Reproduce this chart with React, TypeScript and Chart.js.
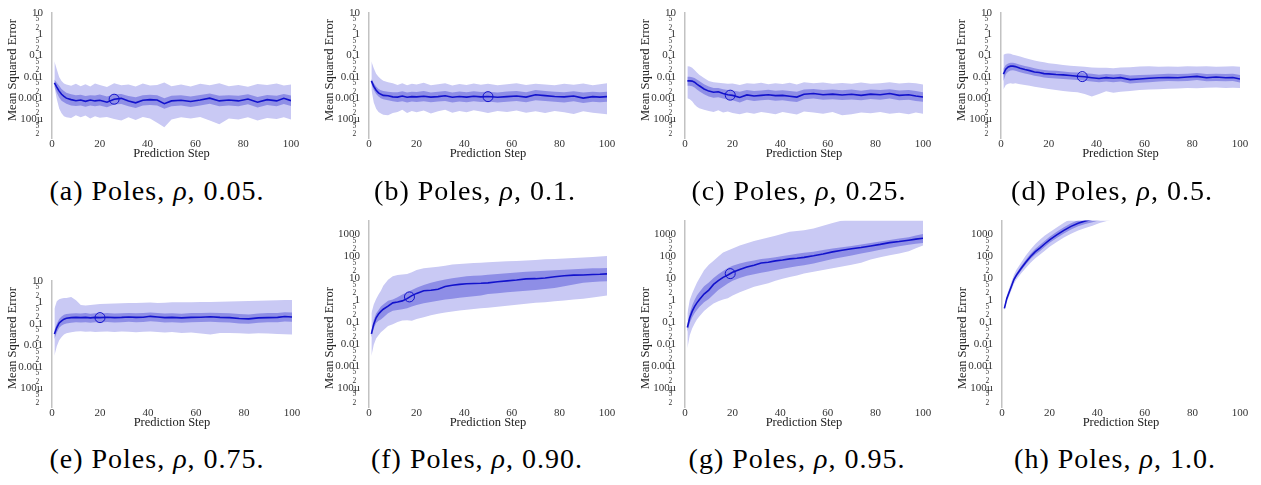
import React, { useEffect, useRef } from 'react';
import { Chart, registerables } from 'chart.js';
Chart.register(...registerables);

// Prediction steps at which the curves were read
const STEPS = [1, 2, 3, 4, 5, 6, 8, 10, 12, 14, 16, 18, 20, 23, 26, 29, 32, 35, 38, 41, 44, 47, 50, 54, 58, 62, 66, 70, 74, 78, 82, 86, 90, 94, 97, 100];

// All series are log10(Mean Squared Error)
// (a) rho 0.05
const A_MEAN = [-2.28, -2.48, -2.67, -2.82, -2.92, -3.00, -3.07, -3.12, -3.09, -3.15, -3.09, -3.13, -3.10, -3.19, -3.05, -3.01, -3.13, -3.22, -3.10, -3.07, -3.09, -3.26, -3.13, -3.10, -3.16, -3.09, -3.00, -3.13, -3.09, -3.13, -3.04, -3.19, -3.07, -3.13, -3.01, -3.12];
const A_INNER_HI = [-2.13, -2.28, -2.42, -2.57, -2.67, -2.75, -2.82, -2.87, -2.84, -2.90, -2.86, -2.88, -2.83, -2.92, -2.82, -2.80, -2.90, -2.96, -2.86, -2.84, -2.86, -3.00, -2.89, -2.86, -2.92, -2.85, -2.78, -2.89, -2.86, -2.89, -2.82, -2.95, -2.85, -2.89, -2.80, -2.88];
const A_INNER_LO = [-2.45, -2.75, -2.97, -3.12, -3.19, -3.26, -3.34, -3.37, -3.34, -3.40, -3.35, -3.38, -3.34, -3.43, -3.30, -3.27, -3.38, -3.46, -3.35, -3.32, -3.34, -3.50, -3.38, -3.35, -3.41, -3.34, -3.26, -3.38, -3.34, -3.38, -3.29, -3.44, -3.32, -3.38, -3.27, -3.37];
const A_OUTER_HI = [-1.27, -1.64, -2.01, -2.20, -2.31, -2.36, -2.42, -2.33, -2.44, -2.35, -2.45, -2.31, -2.38, -2.48, -2.30, -2.40, -2.36, -2.45, -2.31, -2.41, -2.38, -2.27, -2.44, -2.36, -2.45, -2.33, -2.40, -2.30, -2.44, -2.38, -2.47, -2.34, -2.38, -2.31, -2.41, -2.36];
const A_OUTER_LO = [-2.45, -3.04, -3.49, -3.71, -3.85, -3.90, -3.93, -3.80, -3.90, -3.82, -3.95, -3.85, -3.92, -3.88, -3.98, -4.05, -3.90, -4.02, -3.88, -3.95, -4.15, -4.37, -4.00, -3.90, -3.95, -3.88, -4.05, -4.22, -3.95, -4.00, -3.90, -4.05, -3.93, -3.98, -3.90, -4.00];

// (b) rho 0.1
const B_MEAN = [-2.19, -2.45, -2.63, -2.75, -2.82, -2.87, -2.89, -2.94, -2.95, -2.90, -2.96, -2.93, -2.94, -2.91, -2.95, -2.93, -2.89, -2.96, -2.92, -2.95, -2.91, -2.94, -2.92, -2.96, -2.93, -2.90, -2.95, -2.84, -2.88, -2.92, -2.94, -2.90, -3.00, -2.93, -2.95, -2.93];
const B_INNER_HI = [-2.10, -2.30, -2.45, -2.57, -2.63, -2.67, -2.70, -2.72, -2.72, -2.68, -2.74, -2.70, -2.71, -2.67, -2.73, -2.70, -2.66, -2.74, -2.69, -2.72, -2.68, -2.71, -2.70, -2.73, -2.69, -2.66, -2.72, -2.62, -2.66, -2.70, -2.72, -2.68, -2.74, -2.70, -2.72, -2.70];
const B_INNER_LO = [-2.35, -2.62, -2.80, -2.92, -3.00, -3.05, -3.10, -3.14, -3.18, -3.14, -3.20, -3.16, -3.18, -3.14, -3.19, -3.16, -3.13, -3.21, -3.16, -3.19, -3.14, -3.18, -3.16, -3.20, -3.17, -3.13, -3.19, -3.10, -3.13, -3.17, -3.20, -3.15, -3.23, -3.17, -3.19, -3.17];
const B_OUTER_HI = [-1.27, -1.60, -1.85, -2.00, -2.10, -2.18, -2.25, -2.30, -2.38, -2.30, -2.40, -2.33, -2.36, -2.28, -2.40, -2.35, -2.30, -2.41, -2.34, -2.38, -2.31, -2.37, -2.33, -2.40, -2.35, -2.30, -2.38, -2.32, -2.36, -2.40, -2.33, -2.37, -2.31, -2.39, -2.35, -2.30];
const B_OUTER_LO = [-2.60, -3.20, -3.50, -3.65, -3.72, -3.78, -3.80, -3.70, -3.65, -3.55, -3.70, -3.60, -3.66, -3.58, -3.72, -3.62, -3.55, -3.68, -3.60, -3.66, -3.57, -3.63, -3.70, -3.60, -3.65, -3.58, -3.68, -3.62, -3.70, -3.60, -3.66, -3.74, -3.62, -3.68, -3.72, -3.75];

// (c) rho 0.25
const C_MEAN = [-2.19, -2.19, -2.20, -2.25, -2.34, -2.42, -2.57, -2.67, -2.72, -2.70, -2.78, -2.84, -2.87, -2.97, -2.85, -2.90, -2.87, -2.84, -2.88, -2.87, -2.91, -2.95, -2.82, -2.78, -2.84, -2.81, -2.85, -2.82, -2.87, -2.81, -2.84, -2.78, -2.87, -2.84, -2.90, -2.95];
const C_INNER_HI = [-2.00, -2.00, -2.02, -2.06, -2.12, -2.20, -2.35, -2.45, -2.52, -2.53, -2.58, -2.62, -2.64, -2.70, -2.62, -2.66, -2.64, -2.61, -2.65, -2.63, -2.67, -2.70, -2.60, -2.57, -2.62, -2.60, -2.63, -2.60, -2.65, -2.59, -2.62, -2.58, -2.64, -2.62, -2.66, -2.72];
const C_INNER_LO = [-2.42, -2.42, -2.44, -2.50, -2.60, -2.68, -2.82, -2.92, -2.98, -2.96, -3.02, -3.07, -3.10, -3.20, -3.08, -3.13, -3.10, -3.07, -3.12, -3.10, -3.14, -3.18, -3.05, -3.02, -3.07, -3.05, -3.09, -3.06, -3.10, -3.04, -3.08, -3.02, -3.10, -3.08, -3.13, -3.17];
const C_OUTER_HI = [-1.50, -1.52, -1.58, -1.68, -1.80, -1.90, -2.05, -2.20, -2.25, -2.28, -2.30, -2.33, -2.31, -2.38, -2.30, -2.33, -2.28, -2.35, -2.30, -2.34, -2.28, -2.36, -2.26, -2.30, -2.27, -2.33, -2.29, -2.32, -2.27, -2.33, -2.30, -2.26, -2.31, -2.28, -2.30, -2.36];
const C_OUTER_LO = [-3.00, -3.05, -3.15, -3.30, -3.40, -3.47, -3.55, -3.60, -3.65, -3.57, -3.67, -3.63, -3.70, -3.75, -3.67, -3.73, -3.65, -3.70, -3.75, -3.65, -3.71, -3.77, -3.63, -3.67, -3.73, -3.65, -3.80, -3.75, -3.67, -3.71, -3.65, -3.73, -3.69, -3.75, -3.67, -3.73];

// (d) rho 0.5
const D_MEAN = [-1.87, -1.64, -1.54, -1.50, -1.50, -1.52, -1.60, -1.66, -1.71, -1.77, -1.80, -1.85, -1.86, -1.89, -1.91, -1.94, -1.97, -2.00, -2.04, -2.08, -2.04, -2.07, -2.04, -2.13, -2.10, -2.07, -2.04, -2.03, -2.04, -2.01, -1.98, -2.04, -2.01, -2.04, -2.03, -2.10];
const D_INNER_HI = [-1.62, -1.45, -1.38, -1.34, -1.34, -1.36, -1.43, -1.49, -1.54, -1.60, -1.64, -1.68, -1.70, -1.72, -1.75, -1.78, -1.80, -1.83, -1.86, -1.90, -1.87, -1.89, -1.87, -1.94, -1.92, -1.90, -1.88, -1.86, -1.87, -1.85, -1.82, -1.87, -1.85, -1.87, -1.86, -1.92];
const D_INNER_LO = [-2.20, -1.88, -1.76, -1.70, -1.69, -1.71, -1.78, -1.84, -1.89, -1.95, -1.98, -2.03, -2.05, -2.08, -2.10, -2.12, -2.15, -2.18, -2.22, -2.26, -2.22, -2.25, -2.22, -2.31, -2.28, -2.25, -2.22, -2.20, -2.21, -2.19, -2.15, -2.21, -2.19, -2.21, -2.20, -2.27];
const D_OUTER_HI = [-0.97, -0.92, -0.90, -0.92, -0.96, -0.99, -1.05, -1.12, -1.18, -1.24, -1.28, -1.32, -1.36, -1.40, -1.44, -1.48, -1.50, -1.53, -1.56, -1.58, -1.57, -1.60, -1.56, -1.55, -1.52, -1.50, -1.53, -1.51, -1.53, -1.50, -1.52, -1.50, -1.53, -1.51, -1.50, -1.53];
const D_OUTER_LO = [-2.60, -2.38, -2.32, -2.30, -2.33, -2.30, -2.35, -2.38, -2.42, -2.46, -2.50, -2.54, -2.57, -2.62, -2.66, -2.70, -2.72, -2.80, -2.92, -2.80, -2.68, -2.75, -2.70, -2.66, -2.62, -2.60, -2.58, -2.56, -2.55, -2.52, -2.54, -2.51, -2.50, -2.52, -2.51, -2.53];

// (e) rho 0.75
const E_MEAN = [-1.47, -1.17, -0.96, -0.86, -0.78, -0.74, -0.71, -0.70, -0.71, -0.70, -0.72, -0.70, -0.71, -0.69, -0.71, -0.70, -0.68, -0.70, -0.69, -0.65, -0.68, -0.71, -0.70, -0.72, -0.70, -0.69, -0.67, -0.70, -0.71, -0.75, -0.77, -0.72, -0.71, -0.70, -0.66, -0.68];
const E_INNER_HI = [-1.30, -1.00, -0.78, -0.66, -0.58, -0.54, -0.52, -0.51, -0.52, -0.50, -0.53, -0.51, -0.52, -0.49, -0.52, -0.51, -0.49, -0.51, -0.50, -0.47, -0.49, -0.52, -0.51, -0.53, -0.50, -0.49, -0.48, -0.50, -0.51, -0.54, -0.56, -0.52, -0.50, -0.49, -0.46, -0.47];
const E_INNER_LO = [-1.70, -1.40, -1.18, -1.08, -1.02, -0.98, -0.95, -0.93, -0.94, -0.92, -0.95, -0.93, -0.94, -0.91, -0.94, -0.92, -0.90, -0.93, -0.91, -0.88, -0.90, -0.94, -0.93, -0.95, -0.92, -0.91, -0.90, -0.93, -0.94, -0.98, -1.00, -0.95, -0.93, -0.92, -0.89, -0.90];
const E_OUTER_HI = [-0.30, 0.05, 0.15, 0.18, 0.20, 0.20, 0.25, 0.10, -0.12, -0.15, -0.12, -0.10, -0.08, -0.06, -0.05, -0.04, -0.03, -0.03, -0.02, -0.01, -0.03, -0.02, 0.00, 0.00, 0.01, 0.02, 0.02, 0.03, 0.04, 0.05, 0.06, 0.08, 0.09, 0.10, 0.11, 0.11];
const E_OUTER_LO = [-2.48, -2.04, -1.76, -1.61, -1.50, -1.44, -1.39, -1.36, -1.35, -1.37, -1.36, -1.38, -1.37, -1.36, -1.38, -1.36, -1.37, -1.39, -1.37, -1.36, -1.38, -1.40, -1.38, -1.42, -1.40, -1.45, -1.50, -1.43, -1.42, -1.44, -1.46, -1.44, -1.45, -1.47, -1.48, -1.50];

// (f) rho 0.90
const F_MEAN = [-1.54, -1.10, -0.81, -0.64, -0.52, -0.42, -0.28, -0.13, -0.09, -0.04, 0.06, 0.20, 0.30, 0.42, 0.44, 0.49, 0.61, 0.67, 0.71, 0.74, 0.75, 0.76, 0.78, 0.83, 0.87, 0.91, 0.96, 0.97, 1.00, 1.06, 1.10, 1.13, 1.14, 1.16, 1.17, 1.19];
const F_INNER_HI = [-1.40, -0.90, -0.62, -0.45, -0.30, -0.20, -0.04, 0.02, 0.13, 0.25, 0.35, 0.46, 0.56, 0.68, 0.78, 0.86, 0.93, 0.99, 1.04, 1.08, 1.10, 1.12, 1.15, 1.18, 1.22, 1.25, 1.28, 1.31, 1.33, 1.35, 1.38, 1.40, 1.42, 1.44, 1.45, 1.46];
const F_INNER_LO = [-1.70, -1.30, -1.05, -0.95, -0.89, -0.80, -0.60, -0.49, -0.46, -0.42, -0.38, -0.30, -0.23, -0.15, -0.09, -0.03, 0.02, 0.06, 0.10, 0.14, 0.17, 0.20, 0.27, 0.31, 0.35, 0.39, 0.42, 0.45, 0.50, 0.55, 0.62, 0.70, 0.78, 0.82, 0.84, 0.85];
const F_OUTER_HI = [-0.60, -0.20, 0.05, 0.25, 0.42, 0.65, 0.92, 1.08, 1.14, 1.16, 1.18, 1.26, 1.36, 1.44, 1.48, 1.51, 1.56, 1.61, 1.64, 1.66, 1.68, 1.70, 1.72, 1.74, 1.76, 1.78, 1.80, 1.82, 1.85, 1.87, 1.89, 1.91, 1.93, 1.96, 1.98, 2.00];
const F_OUTER_LO = [-2.55, -2.04, -1.75, -1.60, -1.47, -1.38, -1.18, -1.10, -1.00, -0.93, -0.92, -0.95, -0.86, -0.78, -0.70, -0.63, -0.57, -0.52, -0.48, -0.44, -0.41, -0.38, -0.35, -0.31, -0.26, -0.22, -0.17, -0.13, -0.10, -0.06, -0.02, 0.02, 0.06, 0.11, 0.16, 0.20];

// (g) rho 0.95
const G_MEAN = [-1.25, -0.81, -0.52, -0.30, -0.13, 0.01, 0.27, 0.45, 0.71, 0.88, 1.03, 1.14, 1.26, 1.39, 1.50, 1.58, 1.68, 1.72, 1.78, 1.82, 1.87, 1.90, 1.94, 2.01, 2.09, 2.19, 2.26, 2.33, 2.39, 2.46, 2.53, 2.61, 2.66, 2.72, 2.77, 2.81];
const G_INNER_HI = [-1.10, -0.60, -0.25, 0.00, 0.20, 0.35, 0.62, 0.80, 1.00, 1.17, 1.32, 1.46, 1.56, 1.66, 1.74, 1.80, 1.86, 1.90, 1.95, 2.00, 2.05, 2.10, 2.15, 2.20, 2.27, 2.34, 2.40, 2.46, 2.52, 2.59, 2.66, 2.73, 2.80, 2.86, 2.93, 3.00];
const G_INNER_LO = [-1.45, -1.05, -0.80, -0.60, -0.45, -0.32, -0.10, 0.05, 0.25, 0.45, 0.60, 0.75, 0.87, 1.00, 1.10, 1.17, 1.24, 1.30, 1.36, 1.42, 1.48, 1.53, 1.58, 1.66, 1.76, 1.86, 1.94, 2.02, 2.12, 2.20, 2.29, 2.37, 2.44, 2.51, 2.56, 2.59];
const G_OUTER_HI = [-0.60, 0.00, 0.30, 0.55, 0.78, 0.98, 1.35, 1.60, 1.79, 1.98, 2.16, 2.25, 2.34, 2.48, 2.58, 2.68, 2.76, 2.84, 2.92, 3.02, 3.10, 3.14, 3.17, 3.25, 3.38, 3.50, 3.62, 3.68, 3.72, 3.76, 3.80, 3.84, 3.87, 3.90, 3.92, 3.94];
const G_OUTER_LO = [-2.20, -1.61, -1.30, -1.08, -0.89, -0.75, -0.50, -0.32, -0.16, -0.06, 0.02, 0.08, 0.20, 0.35, 0.48, 0.60, 0.68, 0.76, 0.88, 0.97, 1.05, 1.12, 1.20, 1.28, 1.36, 1.44, 1.52, 1.60, 1.70, 1.84, 1.94, 2.04, 2.12, 2.22, 2.35, 2.48];

// (h) rho 1.0 (leaves the plot through the top, read up to step 50)
const H_MEAN = [-0.38, 0.06, 0.35, 0.64, 0.93, 1.12, 1.43, 1.72, 1.98, 2.20, 2.37, 2.56, 2.74, 2.96, 3.17, 3.35, 3.49, 3.60, 3.68, 3.78, 3.86, 3.94, 4.02];
const H_INNER_HI = [-0.33, 0.12, 0.42, 0.72, 1.01, 1.21, 1.53, 1.83, 2.10, 2.33, 2.51, 2.70, 2.88, 3.10, 3.31, 3.49, 3.63, 3.74, 3.84, 3.93, 4.02, 4.10, 4.18];
const H_INNER_LO = [-0.43, 0.00, 0.28, 0.56, 0.85, 1.03, 1.33, 1.61, 1.86, 2.07, 2.23, 2.42, 2.60, 2.82, 3.03, 3.21, 3.35, 3.46, 3.54, 3.63, 3.72, 3.80, 3.88];
const H_OUTER_HI = [-0.28, 0.20, 0.52, 0.84, 1.14, 1.36, 1.70, 2.02, 2.30, 2.55, 2.75, 2.93, 3.08, 3.30, 3.52, 3.70, 3.85, 3.97, 4.08, 4.18, 4.27, 4.35, 4.43];
const H_OUTER_LO = [-0.48, -0.10, 0.18, 0.46, 0.74, 0.92, 1.20, 1.46, 1.70, 1.90, 2.07, 2.24, 2.42, 2.64, 2.84, 3.02, 3.16, 3.28, 3.38, 3.50, 3.60, 3.68, 3.76];

// circled point on each mean curve: step, log10(MSE)
const MARKER_STEPS = [26, 50, 19, 34, 20, 17, 19, null];
const MARKER_LOGS = [-3.05, -2.93, -2.86, -1.99, -0.71, 0.14, 1.20, null];

const CAPTION_LETTERS = ['a', 'b', 'c', 'd', 'e', 'f', 'g', 'h'];
const CAPTION_RHO = ['0.05', '0.1', '0.25', '0.5', '0.75', '0.90', '0.95', '1.0'];

const Y_TICKS = [2e-5, 5e-5, 1e-4, 2e-4, 5e-4, 1e-3, 2e-3, 5e-3, 0.01, 0.02, 0.05, 0.1, 0.2, 0.5, 1, 2, 5, 10, 20, 50, 100, 200, 500, 1000];
const MAJOR_LABELS: Record<number, string> = { [-4]: '100µ', [-3]: '0.001', [-2]: '0.01', [-1]: '0.1', 0: '1', 1: '10', 2: '100', 3: '1000' };
const Y_MIN = 1.35e-5;
const Y_MAX_SMALL = 10.3;
const Y_MAX_LARGE = 4100;

const SERIF = "'Liberation Serif', 'Times New Roman', serif";
const OUTER_COLOR = '#c9c9f4';
const INNER_COLOR = '#8e8ee6';
const LINE_COLOR = '#1212cc';

const Y_AXIS_W = 52;
const X_AXIS_H = 23;
const PAD_T = 8;
const PAD_R = 14;
const PAD_B = 2;

type Panel = {
  mean: number[]; innerHi: number[]; innerLo: number[]; outerHi: number[]; outerLo: number[];
  left: number; right: number; top: number; bottom: number; yMax: number;
  capX: number; capY: number; titleY: number;
};

const PANELS: Panel[] = [
  { mean: A_MEAN, innerHi: A_INNER_HI, innerLo: A_INNER_LO, outerHi: A_OUTER_HI, outerLo: A_OUTER_LO, left: 52, right: 291, top: 5, bottom: 138, yMax: Y_MAX_SMALL, capX: 157, capY: 191, titleY: 70 },
  { mean: B_MEAN, innerHi: B_INNER_HI, innerLo: B_INNER_LO, outerHi: B_OUTER_HI, outerLo: B_OUTER_LO, left: 369, right: 607, top: 5, bottom: 138, yMax: Y_MAX_SMALL, capX: 475, capY: 191, titleY: 70 },
  { mean: C_MEAN, innerHi: C_INNER_HI, innerLo: C_INNER_LO, outerHi: C_OUTER_HI, outerLo: C_OUTER_LO, left: 685, right: 923, top: 5, bottom: 138, yMax: Y_MAX_SMALL, capX: 799, capY: 191, titleY: 70 },
  { mean: D_MEAN, innerHi: D_INNER_HI, innerLo: D_INNER_LO, outerHi: D_OUTER_HI, outerLo: D_OUTER_LO, left: 1001, right: 1240, top: 5, bottom: 138, yMax: Y_MAX_SMALL, capX: 1112, capY: 191, titleY: 70 },
  { mean: E_MEAN, innerHi: E_INNER_HI, innerLo: E_INNER_LO, outerHi: E_OUTER_HI, outerLo: E_OUTER_LO, left: 52, right: 292, top: 273, bottom: 407, yMax: Y_MAX_SMALL, capX: 157, capY: 459, titleY: 338 },
  { mean: F_MEAN, innerHi: F_INNER_HI, innerLo: F_INNER_LO, outerHi: F_OUTER_HI, outerLo: F_OUTER_LO, left: 369, right: 607, top: 213, bottom: 407, yMax: Y_MAX_LARGE, capX: 477, capY: 459, titleY: 338 },
  { mean: G_MEAN, innerHi: G_INNER_HI, innerLo: G_INNER_LO, outerHi: G_OUTER_HI, outerLo: G_OUTER_LO, left: 685, right: 923, top: 213, bottom: 407, yMax: Y_MAX_LARGE, capX: 797, capY: 459, titleY: 338 },
  { mean: H_MEAN, innerHi: H_INNER_HI, innerLo: H_INNER_LO, outerHi: H_OUTER_HI, outerLo: H_OUTER_LO, left: 1002, right: 1240, top: 213, bottom: 407, yMax: Y_MAX_LARGE, capX: 1115, capY: 459, titleY: 338 },
];

const pts = (logs: number[]) => logs.map((L, i) => ({ x: STEPS[i], y: Math.pow(10, L) }));

function tickInfo(v: number) {
  const e = Math.floor(Math.log10(v) + 1e-9);
  const m = Math.round(v / Math.pow(10, e));
  return { e, m };
}

function PanelChart({ p, idx }: { p: Panel; idx: number }) {
  const ref = useRef<HTMLCanvasElement>(null);
  const W = p.right - p.left + Y_AXIS_W + PAD_R;
  const H = PAD_T + (p.bottom - p.top) + X_AXIS_H + PAD_B;
  const canvasTop = p.top - PAD_T;

  useEffect(() => {
    const ms = MARKER_STEPS[idx];
    const ml = MARKER_LOGS[idx];
    const marker = ms != null && ml != null ? [{ x: ms, y: Math.pow(10, ml) }] : [];
    const band = (data: any, fill: any, color: string) => ({
      data, fill, backgroundColor: color, borderColor: 'transparent', borderWidth: 0, pointRadius: 0, tension: 0,
    });
    const yTitle = {
      id: 'yTitle',
      afterDraw(chart: any) {
        const ctx = chart.ctx;
        ctx.save();
        ctx.translate(chart.chartArea.left - 39, p.titleY - canvasTop);
        ctx.rotate(-Math.PI / 2);
        ctx.textAlign = 'center';
        ctx.textBaseline = 'middle';
        ctx.fillStyle = '#222';
        ctx.font = `12.5px ${SERIF}`;
        ctx.fillText('Mean Squared Error', 0, 0);
        ctx.restore();
      },
    };
    const chart = new Chart(ref.current as HTMLCanvasElement, {
      type: 'line',
      data: {
        datasets: [
          { data: marker, showLine: false, pointRadius: 5, pointHoverRadius: 5, pointBorderWidth: 1, pointBorderColor: LINE_COLOR, pointBackgroundColor: 'rgba(0,0,0,0)', borderColor: LINE_COLOR, fill: false } as any,
          { data: pts(p.mean), borderColor: LINE_COLOR, borderWidth: 1.6, pointRadius: 0, fill: false, tension: 0 },
          band(pts(p.innerHi), '+1', INNER_COLOR),
          band(pts(p.innerLo), false, INNER_COLOR),
          band(pts(p.outerHi), '+1', OUTER_COLOR),
          band(pts(p.outerLo), false, OUTER_COLOR),
        ],
      },
      options: {
        animation: false,
        responsive: false,
        devicePixelRatio: 1,
        events: [],
        layout: { padding: { top: PAD_T, right: PAD_R, bottom: PAD_B, left: 0 } },
        plugins: { legend: { display: false }, tooltip: { enabled: false } },
        scales: {
          x: {
            type: 'linear', min: 0, max: 100,
            grid: { display: false, drawTicks: false },
            border: { display: false },
            ticks: { stepSize: 20, padding: 0, color: '#333', font: { family: SERIF, size: 11 }, maxRotation: 0, autoSkip: false },
            title: { display: true, text: 'Prediction Step', color: '#222', font: { family: SERIF, size: 12.5 }, padding: 0 },
            afterFit: (s: any) => { s.height = X_AXIS_H; },
          },
          y: {
            type: 'logarithmic', min: Y_MIN, max: p.yMax,
            grid: { display: false, drawTicks: false },
            border: { display: true, color: '#c2c2c2', width: 1.5 },
            afterBuildTicks: (s: any) => {
              s.ticks = Y_TICKS.filter((v) => v >= Y_MIN && v <= p.yMax).map((v) => ({ value: v, major: tickInfo(v).m === 1 }));
            },
            ticks: {
              autoSkip: false,
              padding: 9,
              color: '#333',
              font: (c: any) => ({ family: SERIF, size: c.tick && c.tick.major ? 11 : 7.5 }),
              callback: (v: any) => {
                const { e, m } = tickInfo(Number(v));
                return m === 1 ? MAJOR_LABELS[e] : String(m) + '\u2002';
              },
            },
            afterFit: (s: any) => { s.width = Y_AXIS_W; },
          },
        },
      } as any,
      plugins: [yTitle],
    });
    return () => chart.destroy();
  }, []);

  return (
    <canvas
      ref={ref}
      width={W}
      height={H}
      style={{ position: 'absolute', left: p.left - Y_AXIS_W, top: canvasTop, width: W, height: H }}
    />
  );
}

export default function App() {
  return (
    <div style={{ position: 'fixed', left: 0, top: 0, width: 1261, height: 485, background: '#fff', overflow: 'hidden' }}>
      {PANELS.map((p, i) => (
        <PanelChart key={i} p={p} idx={i} />
      ))}
      {PANELS.map((p, i) => (
        <div
          key={'c' + i}
          style={{
            position: 'absolute', left: p.capX, top: p.capY - 16, transform: 'translateX(-50%)',
            fontFamily: SERIF, fontSize: 28, lineHeight: '32px', letterSpacing: '1px', whiteSpace: 'nowrap', color: '#000',
          }}
        >
          ({CAPTION_LETTERS[i]}) Poles, <i>ρ</i>, {CAPTION_RHO[i]}.
        </div>
      ))}
    </div>
  );
}
